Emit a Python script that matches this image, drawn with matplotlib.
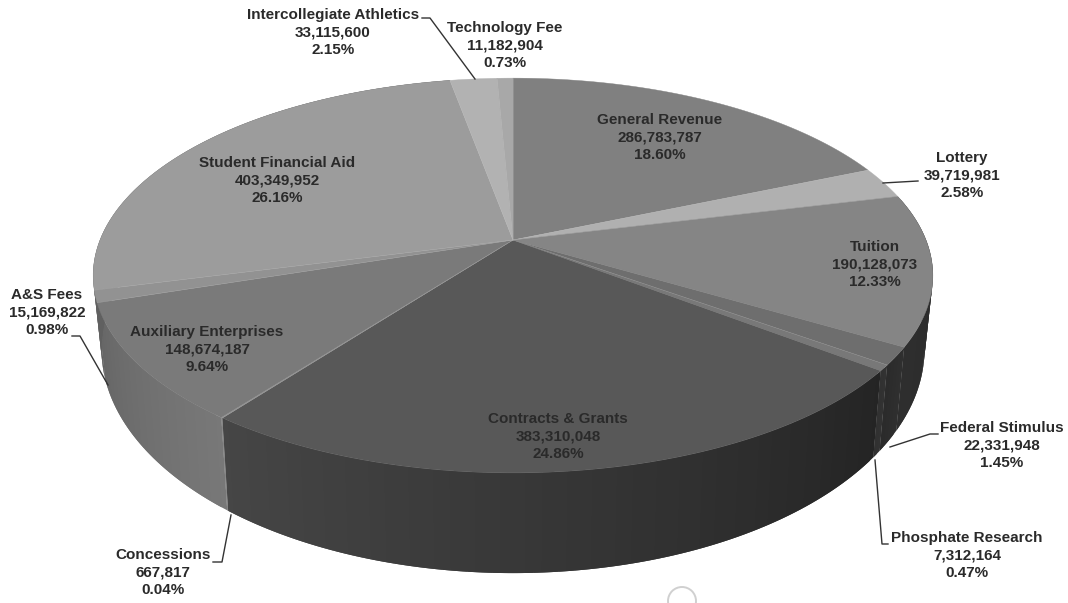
import numpy as np
import matplotlib
matplotlib.use("Agg")
import matplotlib.pyplot as plt
from matplotlib.patches import Circle

plt.rcParams['font.family'] = ['Liberation Sans', 'DejaVu Sans']

#fontes de receita
names = ['General Revenue', 'Lottery', 'Tuition', 'Federal Stimulus', 'Phosphate Research',
         'Contracts & Grants', 'Concessions', 'Auxiliary Enterprises', 'A&S Fees',
         'Student Financial Aid', 'Intercollegiate Athletics', 'Technology Fee']
values = [286783787, 39719981, 190128073, 22331948, 7312164,
          383310048, 667817, 148674187, 15169822,
          403349952, 33115600, 11182904]
percents = ['18.60%', '2.58%', '12.33%', '1.45%', '0.47%',
            '24.86%', '0.04%', '9.64%', '0.98%',
            '26.16%', '2.15%', '0.73%']
top_grey = [0x80, 0xb0, 0x85, 0x6e, 0x78, 0x58, 0x90, 0x7a, 0x92, 0x9c, 0xb2, 0xa8]
side_grey = [(0x30, 0x30), (0x30, 0x30), (0x2a, 0x2e), (0x30, 0x2a), (0x32, 0x30),
             (0x24, 0x46), (0x80, 0x80), (0x78, 0x66), (0x60, 0x5c),
             (0x60, 0x60), (0x60, 0x60), (0x60, 0x60)]

#centro das etiquetas (x, y da primeira linha)
label_x = [660, 962, 875, 1002, 967, 558, 163, 207, 47, 277, 333, 505]
label_y = [120, 158, 247, 428, 538, 419, 555, 332, 295, 163, 15, 28]

#linhas de chamada
leaders = [([918, 883], [181, 183]),
           ([938, 930, 890], [434, 434, 447]),
           ([888, 882, 875], [544, 544, 460]),
           ([213, 222, 231], [562, 562, 515]),
           ([72, 80, 108], [336, 336, 385]),
           ([422, 430, 475], [18, 18, 79])]

#parametros da projecao da pizza
cx, cy = 513.0, 240.0
rx, ry, p = 413.0, 191.0, 0.18


def top_face(t):
    s = 1.0 / (1.0 - p * np.sin(t))
    return cx + rx * np.cos(t) * s, cy + ry * np.sin(t) * s


def bottom_face(t):
    s = 1.0 / (1.0 - p * np.sin(t))
    x, y = top_face(t)
    return cx + (x - cx) * 0.98, y + 142.0 * s - 73.0


fig = plt.figure(figsize=(10.68, 6.03), dpi=100)
ax = fig.add_axes([0, 0, 1, 1])
ax.set_xlim(0, 1068)
ax.set_ylim(603, 0)
ax.axis('off')

edges = np.cumsum([0] + values) / float(sum(values)) * 2 * np.pi - np.pi / 2

#lateral: tiras sobrepostas para fazer o degrade de cada fatia
for i in range(len(values)):
    a0, a1 = edges[i], edges[i + 1]
    if np.sin(a0) < -0.2 and np.sin(a1) < -0.2:
        continue
    n = max(2, int((a1 - a0) * 60))
    ts = np.linspace(a0, a1, n + 1)
    for j in range(n):
        g = np.interp((j + 0.5) / n, [0, 1], side_grey[i]) / 255.0
        strip = np.linspace(ts[j], min(ts[j] + 2 * (ts[1] - ts[0]), a1), 5)
        xa, ya = top_face(strip)
        xb, yb = bottom_face(strip)
        ax.fill(np.r_[xa, xb[::-1]], np.r_[ya, yb[::-1]],
                color=(g, g, g), linewidth=0, zorder=1 + i * 0.01)

#face de cima
for i in range(len(values)):
    ts = np.linspace(edges[i], edges[i + 1], 60)
    x, y = top_face(ts)
    g = top_grey[i] / 255.0
    ax.fill(np.r_[cx, x], np.r_[cy, y], color=(g, g, g), linewidth=0.3, zorder=2)
    ax.plot([cx, x[0]], [cy, y[0]], color='#c8c8c8', linewidth=0.4, alpha=0.25, zorder=3)

for lx, ly in leaders:
    ax.plot(lx, ly, color='#333333', linewidth=1.0, zorder=4)

for i in range(len(names)):
    text = '%s\n%s\n%s' % (names[i], format(values[i], ','), percents[i])
    ax.text(label_x[i], label_y[i] - 7, text, ha='center', va='top',
            fontsize=11, fontweight='bold', color='#2a2a2a',
            linespacing=1.3, zorder=5)

ax.add_patch(Circle((682, 601), 14, fill=False, edgecolor='#d0d0d0', linewidth=1.4))

fig.savefig('out.png', dpi=100)
